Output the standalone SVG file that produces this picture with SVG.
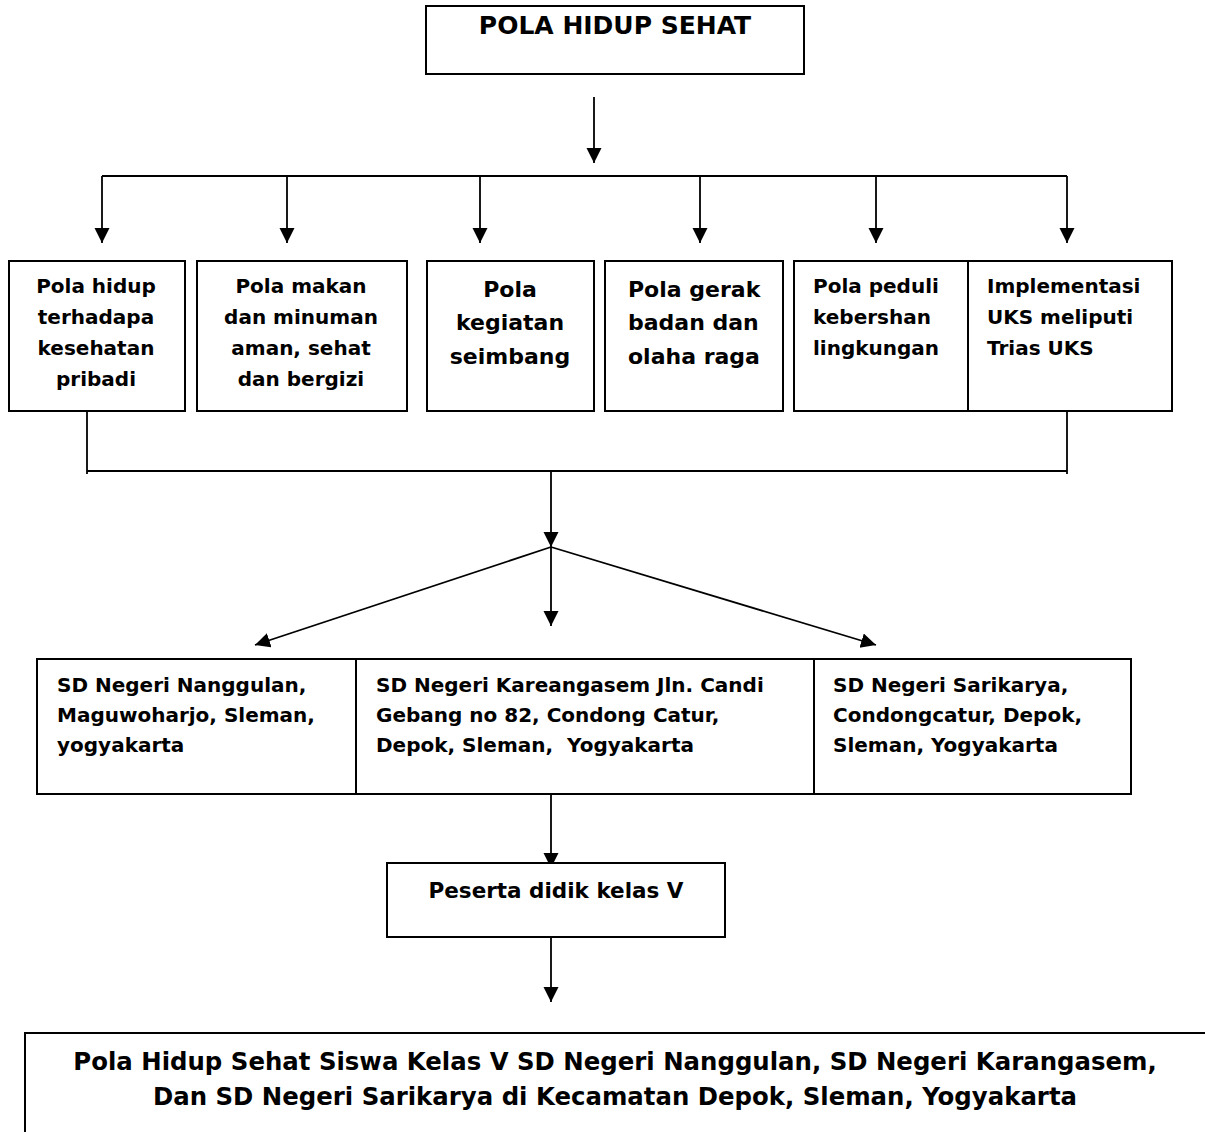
<svg xmlns="http://www.w3.org/2000/svg" width="1205" height="1132" viewBox="0 0 1205 1132">
<style>
.box{fill:#fff;stroke:#000;stroke-width:2}
.ln{fill:none;stroke:#000;stroke-width:1.8}
.t{font-family:"DejaVu Sans","Verdana",sans-serif;font-weight:bold;fill:#000}
.s20{font-size:20px}
.s22{font-size:22px}
.c{text-anchor:middle}
</style>
<defs>
<marker id="ah" markerUnits="userSpaceOnUse" markerWidth="16" markerHeight="16" refX="15" refY="7.5" orient="auto">
<path d="M0,0 L15,7.5 L0,15 Z" fill="#000"/>
</marker>
</defs>
<rect width="1205" height="1132" fill="#fff"/>
<g id="connectors">
<line class="ln" x1="594" y1="97" x2="594" y2="163" marker-end="url(#ah)"/>
<line class="ln" x1="102" y1="176" x2="1067" y2="176"/>
<line class="ln" x1="102" y1="176" x2="102" y2="243" marker-end="url(#ah)"/>
<line class="ln" x1="287" y1="176" x2="287" y2="243" marker-end="url(#ah)"/>
<line class="ln" x1="480" y1="176" x2="480" y2="243" marker-end="url(#ah)"/>
<line class="ln" x1="700" y1="176" x2="700" y2="243" marker-end="url(#ah)"/>
<line class="ln" x1="876" y1="176" x2="876" y2="243" marker-end="url(#ah)"/>
<line class="ln" x1="1067" y1="176" x2="1067" y2="243" marker-end="url(#ah)"/>
<line class="ln" x1="87" y1="407" x2="87" y2="474"/>
<line class="ln" x1="1067" y1="411" x2="1067" y2="474"/>
<line class="ln" x1="87" y1="471" x2="1067" y2="471"/>
<line class="ln" x1="551" y1="471" x2="551" y2="547" marker-end="url(#ah)"/>
<line class="ln" x1="551" y1="547" x2="551" y2="626" marker-end="url(#ah)"/>
<line class="ln" x1="551" y1="547" x2="255" y2="645" marker-end="url(#ah)"/>
<line class="ln" x1="551" y1="547" x2="876" y2="645" marker-end="url(#ah)"/>
<line class="ln" x1="551" y1="794" x2="551" y2="868" marker-end="url(#ah)"/>
<line class="ln" x1="551" y1="937" x2="551" y2="1002" marker-end="url(#ah)"/>
</g>
<g id="n-title">
<rect class="box" x="426" y="6" width="378" height="68"/>
<text class="t c" x="615" y="34" font-size="25">POLA HIDUP SEHAT</text>
</g>
<g id="n-pribadi">
<rect class="box" x="9" y="261" width="176" height="150"/>
<text class="t s20 c" x="96"><tspan x="96" y="293">Pola hidup</tspan><tspan x="96" y="324">terhadapa</tspan><tspan x="96" y="355">kesehatan</tspan><tspan x="96" y="386">pribadi</tspan></text>
</g>
<g id="n-makan">
<rect class="box" x="197" y="261" width="210" height="150"/>
<text class="t s20 c"><tspan x="301" y="293">Pola makan</tspan><tspan x="301" y="324">dan minuman</tspan><tspan x="301" y="355">aman, sehat</tspan><tspan x="301" y="386">dan bergizi</tspan></text>
</g>
<g id="n-kegiatan">
<rect class="box" x="427" y="261" width="167" height="150"/>
<text class="t s22 c"><tspan x="510" y="297">Pola</tspan><tspan x="510" y="330">kegiatan</tspan><tspan x="510" y="364">seimbang</tspan></text>
</g>
<g id="n-gerak">
<rect class="box" x="605" y="261" width="178" height="150"/>
<text class="t s22"><tspan x="628" y="297">Pola gerak</tspan><tspan x="628" y="330">badan dan</tspan><tspan x="628" y="364">olaha raga</tspan></text>
</g>
<g id="n-peduli">
<rect class="box" x="794" y="261" width="174" height="150"/>
<text class="t s20"><tspan x="813" y="293">Pola peduli</tspan><tspan x="813" y="324">kebershan</tspan><tspan x="813" y="355">lingkungan</tspan></text>
</g>
<g id="n-uks">
<rect class="box" x="968" y="261" width="204" height="150"/>
<text class="t s20"><tspan x="987" y="293">Implementasi</tspan><tspan x="987" y="324">UKS meliputi</tspan><tspan x="987" y="355">Trias UKS</tspan></text>
</g>
<g id="n-nanggulan">
<rect class="box" x="37" y="659" width="319" height="135"/>
<text class="t s20"><tspan x="57" y="692">SD Negeri Nanggulan,</tspan><tspan x="57" y="722">Maguwoharjo, Sleman,</tspan><tspan x="57" y="752">yogyakarta</tspan></text>
</g>
<g id="n-karangasem">
<rect class="box" x="356" y="659" width="458" height="135"/>
<text class="t s20" xml:space="preserve"><tspan x="376" y="692">SD Negeri Kareangasem Jln. Candi</tspan><tspan x="376" y="722">Gebang no 82, Condong Catur,</tspan><tspan x="376" y="752">Depok, Sleman,  Yogyakarta</tspan></text>
</g>
<g id="n-sarikarya">
<rect class="box" x="814" y="659" width="317" height="135"/>
<text class="t s20"><tspan x="833" y="692">SD Negeri Sarikarya,</tspan><tspan x="833" y="722">Condongcatur, Depok,</tspan><tspan x="833" y="752">Sleman, Yogyakarta</tspan></text>
</g>
<g id="n-peserta">
<rect class="box" x="387" y="863" width="338" height="74"/>
<text class="t c" x="556" y="898" font-size="21.5">Peserta didik kelas V</text>
</g>
<g id="n-hasil">
<path class="box" d="M25,1132 V1033 H1206" fill="none"/>
<text class="t c" font-size="24.4"><tspan x="615" y="1070">Pola Hidup Sehat Siswa Kelas V SD Negeri Nanggulan, SD Negeri Karangasem,</tspan><tspan x="615" y="1105">Dan SD Negeri Sarikarya di Kecamatan Depok, Sleman, Yogyakarta</tspan></text>
</g>
</svg>
